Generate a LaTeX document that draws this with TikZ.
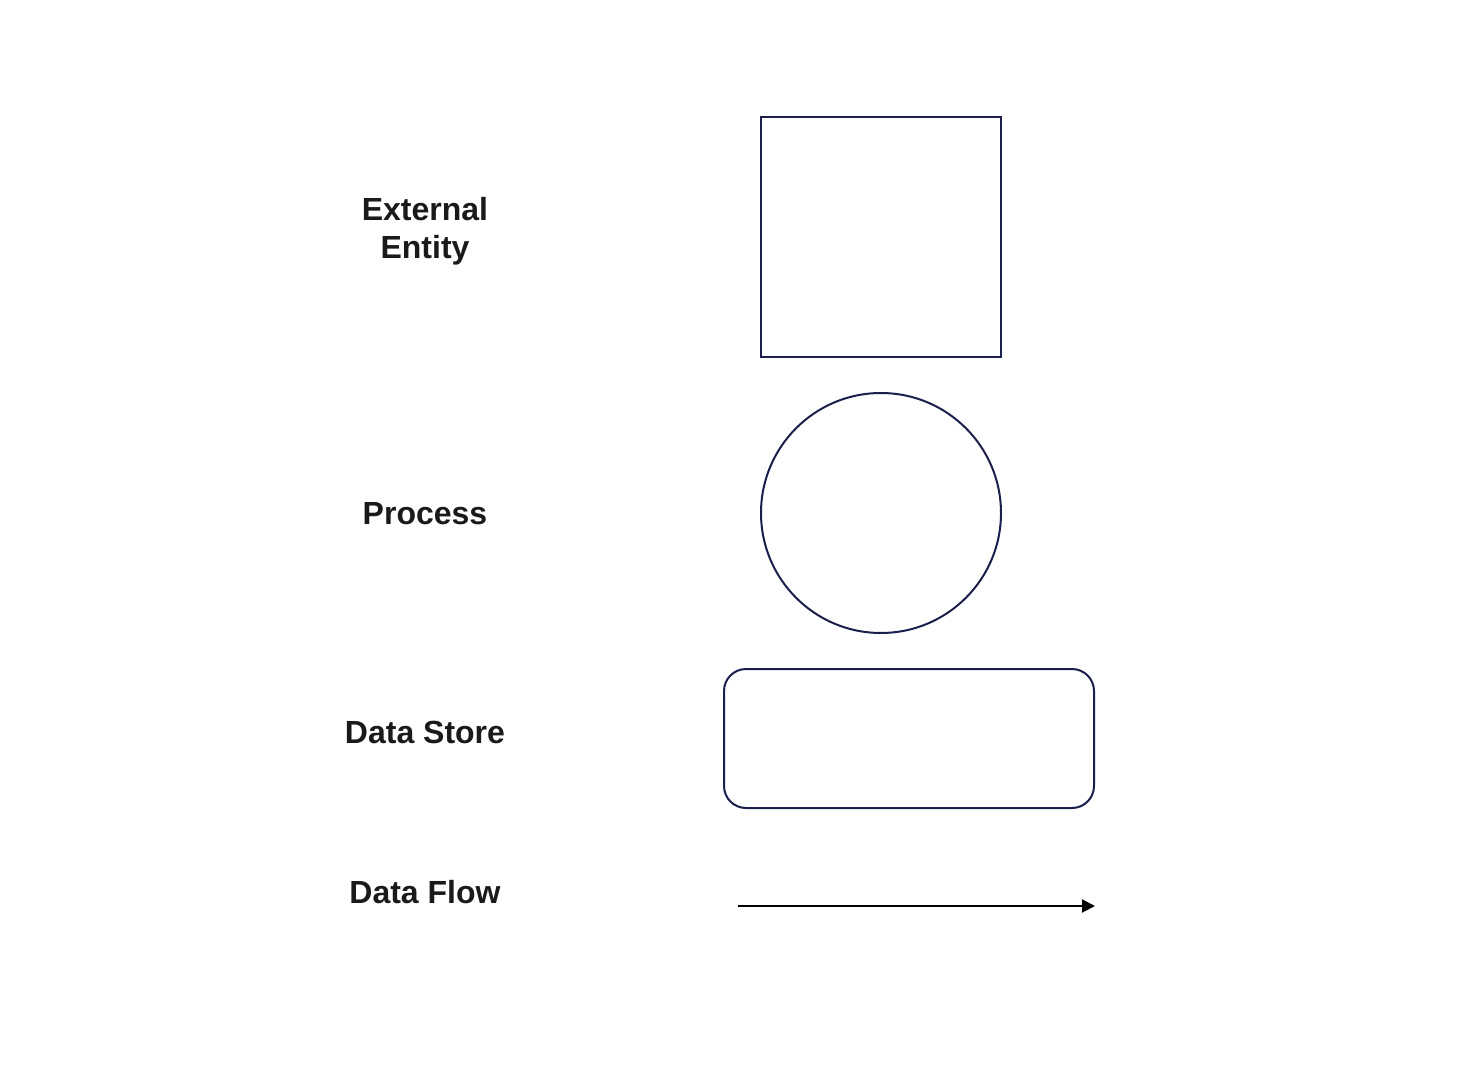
\documentclass[tikz,border=0pt]{standalone}
\usepackage{fontspec}
\setmainfont{Liberation Sans}
\usetikzlibrary{arrows.meta}
\definecolor{navy}{HTML}{1B1F4B}
\definecolor{txt}{HTML}{1A1A1A}
\begin{document}
\begin{tikzpicture}[x=0.5pt,y=-0.5pt,
  lbl/.style={font=\fontsize{16pt}{19pt}\selectfont\bfseries, text=txt, align=center, inner sep=0pt},
  shp/.style={draw=navy, line width=1pt, inner sep=0pt, outer sep=0pt}]
\useasboundingbox (0,0) rectangle (1458,1070);
\node[lbl] (lee) at (425,231) {External\\Entity};
\node[lbl] (lpr) at (425,514) {Process};
\node[lbl] (lds) at (425,732) {Data Store};
\node[lbl] (ldf) at (425,892) {Data Flow};
\node[shp, rectangle, minimum width=120pt, minimum height=120pt] (ee) at (881,237) {};
\node[shp, circle, minimum size=120pt] (pr) at (881,513) {};
\node[shp, rectangle, rounded corners=11pt, minimum width=185pt, minimum height=69.5pt] (ds) at (909,738.5) {};
\coordinate (fs) at (738,906);
\coordinate (fe) at (1095,906);
\draw[line width=1pt, -{Triangle[length=6.5pt,width=6.5pt]}] (fs) -- (fe);
\end{tikzpicture}
\end{document}
